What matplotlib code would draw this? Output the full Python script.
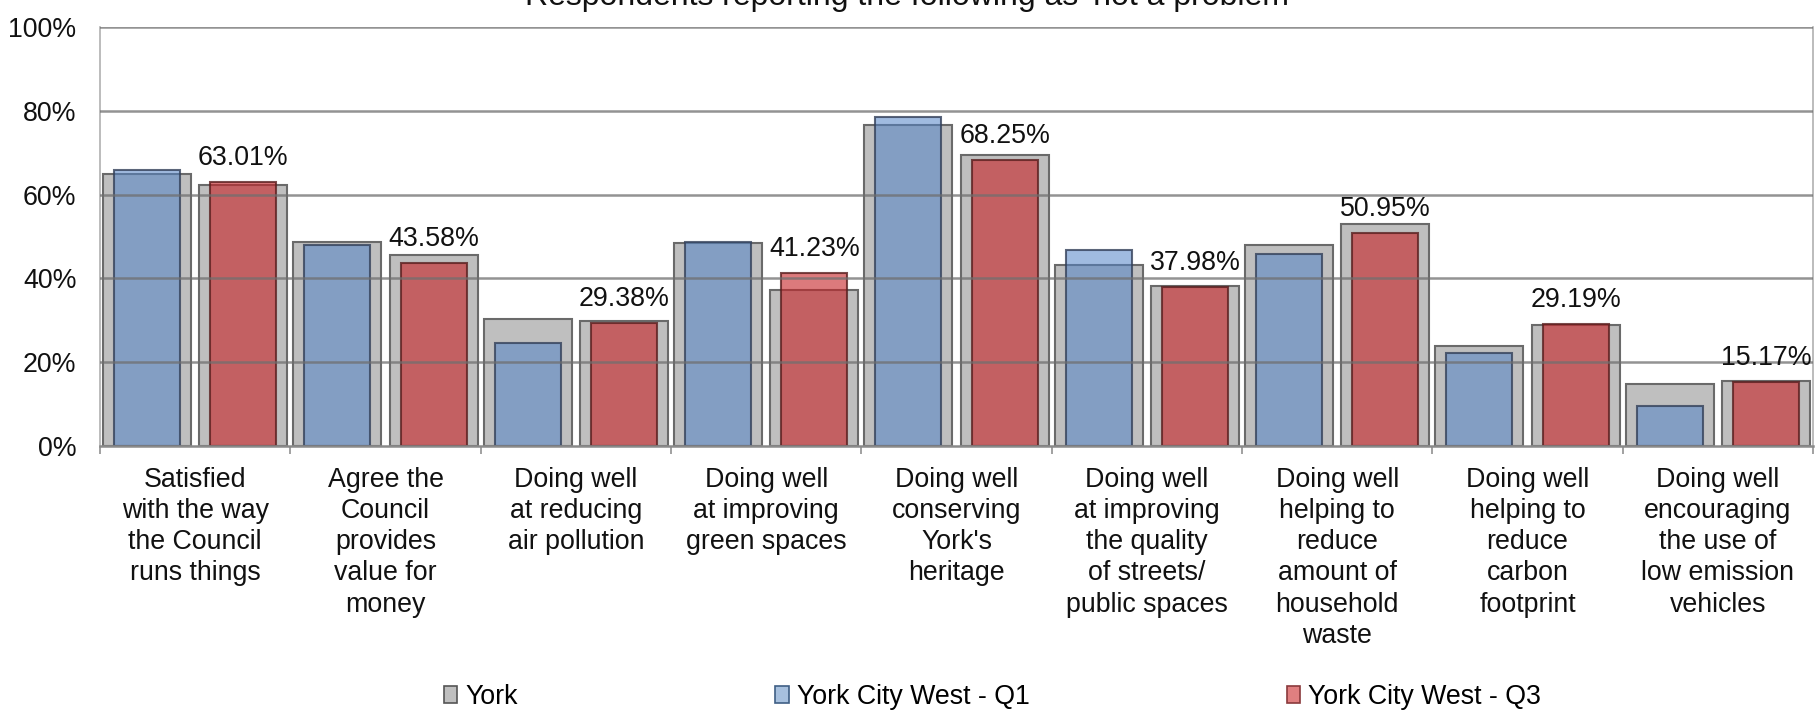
import matplotlib
matplotlib.use("Agg")
import matplotlib.pyplot as plt
import numpy as np
from matplotlib.patches import Patch

plt.rcParams['font.family'] = ['Liberation Sans', 'DejaVu Sans']

categories = [
    "Satisfied\nwith the way\nthe Council\nruns things",
    "Agree the\nCouncil\nprovides\nvalue for\nmoney",
    "Doing well\nat reducing\nair pollution",
    "Doing well\nat improving\ngreen spaces",
    "Doing well\nconserving\nYork's\nheritage",
    "Doing well\nat improving\nthe quality\nof streets/\npublic spaces",
    "Doing well\nhelping to\nreduce\namount of\nhousehold\nwaste",
    "Doing well\nhelping to\nreduce\ncarbon\nfootprint",
    "Doing well\nencouraging\nthe use of\nlow emission\nvehicles",
]
york_q1 = [64.9, 48.6, 30.4, 48.5, 76.5, 43.1, 48.0, 23.9, 14.9]
york_q3 = [62.2, 45.5, 29.8, 37.2, 69.5, 38.3, 52.9, 28.8, 15.4]
west_q1 = [65.9, 48.0, 24.7, 48.8, 78.6, 46.7, 45.75, 22.2, 9.5]
west_q3 = [63.01, 43.58, 29.38, 41.23, 68.25, 37.98, 50.95, 29.19, 15.17]
yticks = [0, 20, 40, 60, 80, 100]
title = "Respondents reporting the following as 'not a problem'"
legend_labels = ["York", "York City West - Q1", "York City West - Q3"]

FS = 19.3
W, H = 1816, 710
fig = plt.figure(figsize=(W / 100, H / 100), dpi=100)
ax = fig.add_axes([100 / W, 264 / H, (1813 - 100) / W, (446 - 27) / H])

x = np.arange(len(categories))
off = 0.2535
gw = 0.462
cw = 0.347

grey = '#bfbfbf'
grey_edge = '#6a6a6a'
blue = (82 / 255, 131 / 255, 199 / 255, 0.55)
red = (198 / 255, 33 / 255, 37 / 255, 0.6)

ax.bar(x - off, york_q1, gw, color=grey, edgecolor=grey_edge, linewidth=1.5, zorder=2)
ax.bar(x + off, york_q3, gw, color=grey, edgecolor=grey_edge, linewidth=1.5, zorder=2)
ax.bar(x - off, west_q1, cw, color=blue, edgecolor=(0.2, 0.25, 0.35, 0.8), linewidth=1.5, zorder=3)
ax.bar(x + off, west_q3, cw, color=red, edgecolor=(0.35, 0.12, 0.12, 0.8), linewidth=1.5, zorder=3)

for xi, v in zip(x + off, west_q3):
    ax.annotate(f"{v:.2f}%", (xi, v), xytext=(0, 17), textcoords='offset pixels',
                ha='center', va='baseline', fontsize=FS, color='#111111', zorder=6)

ax.set_xlim(-0.5, len(categories) - 0.5)
ax.set_ylim(0, 100)
ax.set_yticks(yticks)
ax.set_yticklabels([f"{t}%" for t in yticks])
for t in yticks[1:]:
    ax.axhline(t, color='#6f6f6f', alpha=0.75, linewidth=1.8, zorder=4)

ax.set_xticks(x)
ax.set_xticklabels(categories, fontsize=FS, linespacing=1.26, color='#111111')
ax.set_xticks(np.arange(len(categories) + 1) - 0.5, minor=True)
ax.tick_params(axis='x', which='major', length=0, pad=15)
ax.tick_params(axis='x', which='minor', length=6, width=1.3, color='#9a9a9a', direction='out')
ax.tick_params(axis='y', length=0, pad=17, labelsize=FS, labelcolor='#111111')

for s in ['left', 'right']:
    ax.spines[s].set_color('#b0b0b0')
    ax.spines[s].set_linewidth(1.2)
ax.spines['top'].set_visible(False)
ax.spines['bottom'].set_color('#8a8a8a')
ax.spines['bottom'].set_linewidth(1.8)
ax.spines['bottom'].set_zorder(5)

fig.text(910 / W, 1 - 5 / H, title, ha='center', va='baseline', fontsize=23, color='#111111')

handles = [
    Patch(facecolor=grey, edgecolor='#555555', linewidth=1.2),
    Patch(facecolor='#a7c0de', edgecolor='#3f5f85', linewidth=1.2),
    Patch(facecolor='#e07f80', edgecolor='#8a3a3c', linewidth=1.2),
]
fig.legend(handles, legend_labels, ncol=3, loc='center left',
           bbox_to_anchor=(444 / W, 1 - 697 / H), frameon=False, fontsize=FS,
           handlelength=0.5, handleheight=0.62, handletextpad=0.3,
           columnspacing=9.6, borderpad=0, borderaxespad=0)

fig.savefig('out.png', dpi=100)
